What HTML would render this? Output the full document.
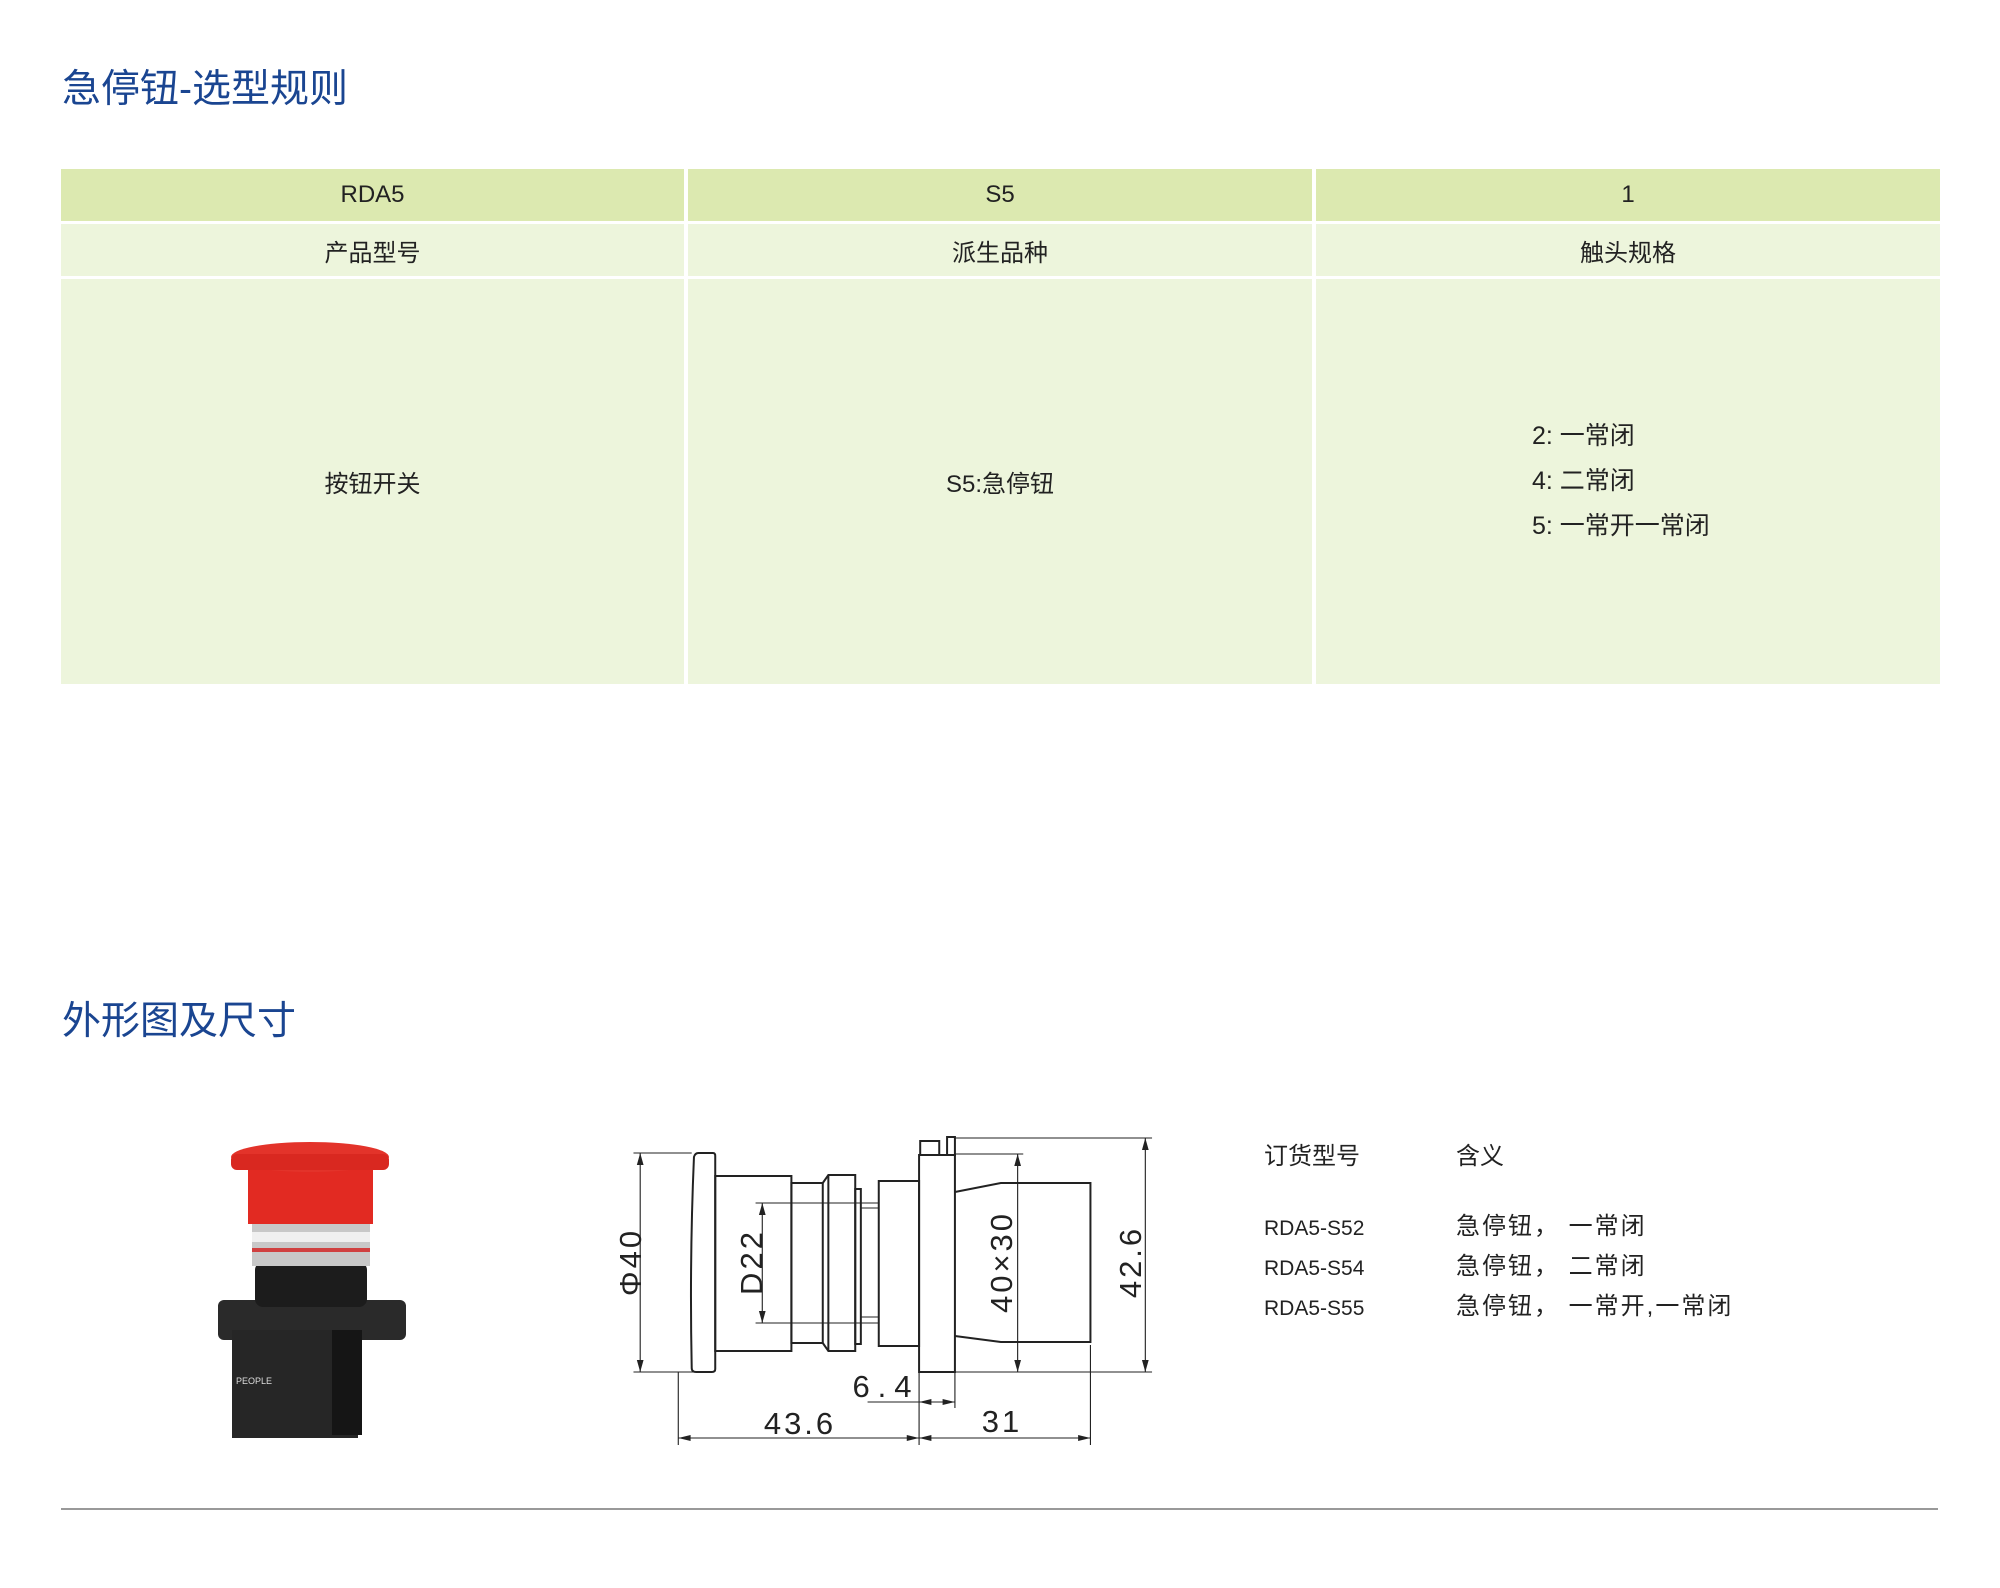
<!DOCTYPE html>
<html><head><meta charset="utf-8"><style>
body{margin:0;width:2000px;height:1588px;background:#fff;position:relative;overflow:hidden;font-family:"Liberation Sans","Noto Sans CJK SC",sans-serif;color:#222}
.t{position:absolute;white-space:nowrap}
.h{color:#1a4591;font-size:39px;left:62px}
.cell{position:absolute;display:flex;align-items:center;justify-content:center;font-size:24px}
</style></head><body>
<div class="t h" style="top:58px">急停钮-选型规则</div>
<div class="cell" style="left:61px;top:169px;width:623px;height:52px;background:#dce9b0">RDA5</div>
<div class="cell" style="left:688px;top:169px;width:624px;height:52px;background:#dce9b0">S5</div>
<div class="cell" style="left:1316px;top:169px;width:624px;height:52px;background:#dce9b0">1</div>
<div class="cell" style="left:61px;top:224px;width:623px;height:52px;background:#edf5dc">产品型号</div>
<div class="cell" style="left:688px;top:224px;width:624px;height:52px;background:#edf5dc">派生品种</div>
<div class="cell" style="left:1316px;top:224px;width:624px;height:52px;background:#edf5dc">触头规格</div>
<div class="cell" style="left:61px;top:279px;width:623px;height:405px;background:#edf5dc">按钮开关</div>
<div class="cell" style="left:688px;top:279px;width:624px;height:405px;background:#edf5dc">S5:急停钮</div>
<div class="cell" style="left:1316px;top:279px;width:624px;height:405px;background:#edf5dc"></div>
<div class="t" style="left:1532px;top:414px;font-size:25px;line-height:45px">2: 一常闭<br>4: 二常闭<br>5: 一常开一常闭</div>

<div class="t h" style="top:990px">外形图及尺寸</div>

<svg style="position:absolute;left:0;top:0" width="2000" height="1588">
<!-- photo -->
<rect x="218" y="1300" width="188" height="40" rx="6" fill="#2a2a2a"/>
<rect x="232" y="1330" width="126" height="108" fill="#262626"/>
<rect x="332" y="1330" width="30" height="105" fill="#151515"/>
<rect x="255" y="1262" width="112" height="45" rx="8" fill="#1c1c1c"/>
<rect x="252" y="1222" width="118" height="44" fill="#c8c8c8"/>
<rect x="252" y="1232" width="118" height="10" fill="#f0f0f0"/>
<rect x="252" y="1248" width="118" height="4" fill="#d04040"/>
<rect x="248" y="1160" width="125" height="64" fill="#e22a22"/>
<ellipse cx="310" cy="1157" rx="79" ry="15" fill="#e3332a"/>
<rect x="231" y="1154" width="158" height="16" rx="6" fill="#d92820"/>
<text x="236" y="1384" font-size="9" fill="#ddd">PEOPLE</text>
<!-- drawing -->
<g transform="matrix(1.12,0,0,1,-76.6,0)">
<g fill="none" stroke="#222" stroke-width="2" vector-effect="non-scaling-stroke">
<path vector-effect="non-scaling-stroke" d="M692 1153 H705 Q707 1153 707 1156 V1369 Q707 1372 704 1372 H690 Q686 1372 686 1368 Q684 1260 688 1157 Q689 1153 692 1153Z"/>
<rect vector-effect="non-scaling-stroke" x="707" y="1176" width="68" height="175"/>
<rect vector-effect="non-scaling-stroke" x="775" y="1183" width="28" height="160"/>
<path vector-effect="non-scaling-stroke" d="M803 1183 L808 1175 H832 V1351 H808 L803 1343"/>
<line vector-effect="non-scaling-stroke" x1="808" y1="1175" x2="808" y2="1351"/>
<rect vector-effect="non-scaling-stroke" x="832" y="1189" width="5" height="155"/>
<rect vector-effect="non-scaling-stroke" x="853" y="1181" width="36" height="165"/>
<rect vector-effect="non-scaling-stroke" x="889" y="1155" width="32" height="217"/>
<rect vector-effect="non-scaling-stroke" x="890" y="1141" width="17" height="14"/>
<rect vector-effect="non-scaling-stroke" x="914" y="1137" width="7" height="18"/>
<path vector-effect="non-scaling-stroke" d="M921 1192 L962 1183 H1042 V1342 H962 L921 1336"/>
</g>
<g stroke="#222" stroke-width="1">
<line x1="837" y1="1203" x2="853" y2="1203"/><line x1="837" y1="1208" x2="853" y2="1208"/>
<line x1="837" y1="1317" x2="853" y2="1317"/><line x1="837" y1="1323" x2="853" y2="1323"/>
<line x1="634" y1="1153" x2="686" y2="1153"/><line x1="634" y1="1372" x2="690" y2="1372"/>
<line x1="640" y1="1153" x2="640" y2="1372"/>
<line x1="743" y1="1203" x2="837" y2="1203"/><line x1="743" y1="1323" x2="837" y2="1323"/>
<line x1="749" y1="1203" x2="749" y2="1323"/>
<line x1="921" y1="1154" x2="982" y2="1154"/><line x1="977" y1="1154" x2="977" y2="1372"/>
<line x1="921" y1="1138" x2="1097" y2="1138"/><line x1="921" y1="1372" x2="1097" y2="1372"/>
<line x1="1091" y1="1138" x2="1091" y2="1372"/>
<line x1="674" y1="1372" x2="674" y2="1445"/><line x1="889" y1="1372" x2="889" y2="1445"/>
<line x1="921" y1="1372" x2="921" y2="1408"/><line x1="1042" y1="1345" x2="1042" y2="1445"/>
<line x1="843" y1="1402" x2="921" y2="1402"/>
<line x1="674" y1="1438" x2="1042" y2="1438"/>
</g>
<g fill="#222">
<path d="M640 1153 l-3 12 h6z M640 1372 l-3 -12 h6z"/>
<path d="M749 1203 l-3 12 h6z M749 1323 l-3 -12 h6z"/>
<path d="M977 1154 l-3 12 h6z M977 1372 l-3 -12 h6z"/>
<path d="M1091 1138 l-3 12 h6z M1091 1372 l-3 -12 h6z"/>
<path d="M889 1402 l11 -3 v6z M921 1402 l-11 -3 v6z"/>
<path d="M674 1438 l11 -3 v6z M889 1438 l-11 -3 v6z M889 1438 l11 -3 v6z M1042 1438 l-11 -3 v6z"/>
</g>
</g>
<g font-size="31" fill="#222" font-family="Liberation Sans,sans-serif" letter-spacing="3">
<text transform="translate(641,1262) rotate(-90)" text-anchor="middle">Φ40</text>
<text transform="translate(762,1262) rotate(-90)" text-anchor="middle">D22</text>
<text transform="translate(1012,1262) rotate(-90)" text-anchor="middle">40×30</text>
<text transform="translate(1141,1262) rotate(-90)" text-anchor="middle">42.6</text>
<text x="886" y="1397" text-anchor="middle" letter-spacing="8">6.4</text>
<text x="800" y="1434" text-anchor="middle">43.6</text>
<text x="1002" y="1432" text-anchor="middle">31</text>
</g>
<line x1="61" y1="1509" x2="1938" y2="1509" stroke="#999" stroke-width="2"/>
</svg>
<div class="t" style="left:1264px;top:1136px;font-size:24px">订货型号</div>
<div class="t" style="left:1456px;top:1136px;font-size:24px">含义</div>
<div class="t" style="left:1264px;top:1209px;font-size:21px;line-height:40px">RDA5-S52<br>RDA5-S54<br>RDA5-S55</div>
<div class="t" style="left:1456px;top:1207px;font-size:24px;line-height:40px;letter-spacing:2px">急停钮， 一常闭<br>急停钮， 二常闭<br>急停钮， 一常开,一常闭</div>
</body></html>
